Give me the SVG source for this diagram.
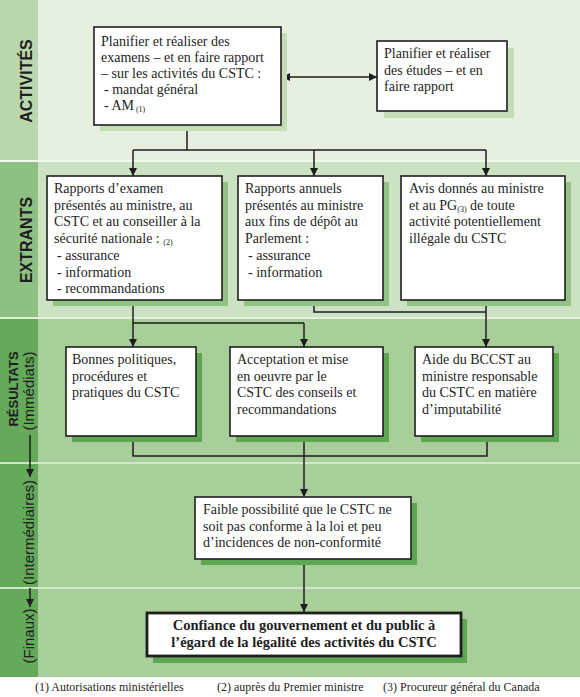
<svg xmlns="http://www.w3.org/2000/svg" width="580" height="697" viewBox="0 0 580 697">
<style>
.box{fill:#fff;stroke:#1e1e1e;stroke-width:1.6}
.fin{fill:#fff;stroke:#1e1e1e;stroke-width:2.8}
.t{font-family:"Liberation Serif","Times New Roman",serif;font-size:14px;fill:#1e1e1e}
.b{font-weight:bold;font-size:14.5px}
.sub{font-size:8px}
.fn{font-family:"Liberation Serif","Times New Roman",serif;font-size:12px;fill:#1e1e1e}
.side{font-family:"Liberation Sans",Arial,sans-serif;fill:#1e1e1e;text-anchor:middle}
.sb{font-weight:bold;font-size:16px}
.ss{font-weight:bold;font-size:13px}
.sp{font-size:15px}
.c{fill:none;stroke:#1e1e1e;stroke-width:1.5}
.sh1{fill:#c3ddb7}.sh2{fill:#92c284}.sh3{fill:#5fa653}
</style>
<defs>
<marker id="ah" viewBox="0 0 10 10" refX="10" refY="5" markerWidth="9" markerHeight="8" markerUnits="userSpaceOnUse" orient="auto-start-reverse">
<path d="M0,0 L10,5 L0,10 z" fill="#1e1e1e"/>
</marker>
</defs>
<g id="background">
<rect x="0" y="0" width="580" height="677" fill="#a8cf9a"/>
<rect x="0" y="0" width="580" height="161" fill="#e6efe0"/>
<rect x="0" y="0" width="38" height="161" fill="#b9d6ad"/>
<rect x="0" y="161" width="580" height="157" fill="#cce3c3"/>
<rect x="0" y="161" width="38" height="157" fill="#8fc083"/>
<rect x="0" y="318" width="38" height="359" fill="#65a95a"/>
<line x1="0" y1="161" x2="580" y2="161" stroke="#f4f8f1" stroke-width="2"/>
<line x1="0" y1="318" x2="580" y2="318" stroke="#e4efdd" stroke-width="2"/>
<line x1="0" y1="463" x2="580" y2="463" stroke="#d2e6ca" stroke-width="2"/>
<line x1="0" y1="588" x2="580" y2="588" stroke="#d2e6ca" stroke-width="2"/>
</g>
<g id="sidebar">
<text class="side sb" transform="translate(31.5,81) rotate(-90)">ACTIVITÉS</text>
<text class="side sb" transform="translate(31.5,240) rotate(-90)">EXTRANTS</text>
<text class="side ss" transform="translate(18,389) rotate(-90)">RÉSULTATS</text>
<text class="side sp" transform="translate(34,391) rotate(-90)">(Immédiats)</text>
<text class="side sp" transform="translate(34,532.5) rotate(-90)">(Intermédiaires)</text>
<text class="side sp" transform="translate(34,636) rotate(-90)">(Finaux)</text>
<path class="c" d="M30,435 V477" marker-end="url(#ah)"/>
<path class="c" d="M30,588 V607" marker-end="url(#ah)"/>
</g>
<g id="connectors">
<path class="c" d="M377,77 H282" marker-start="url(#ah)" marker-end="url(#ah)"/>
<path class="c" d="M187,125 V150 M133,150 H486"/>
<path class="c" d="M133,150 V176" marker-end="url(#ah)"/>
<path class="c" d="M314,150 V176" marker-end="url(#ah)"/>
<path class="c" d="M486,150 V176" marker-end="url(#ah)"/>
<path class="c" d="M133,300 V323 H304"/>
<path class="c" d="M133,323 V347" marker-end="url(#ah)"/>
<path class="c" d="M304,323 V347" marker-end="url(#ah)"/>
<path class="c" d="M314,300 V312 H486"/>
<path class="c" d="M486,300 V347" marker-end="url(#ah)"/>
<path class="c" d="M133,436 V456 H487 V436"/>
<path class="c" d="M304,436 V497" marker-end="url(#ah)"/>
<path class="c" d="M304,559 V612" marker-end="url(#ah)"/>
</g>
<g id="n1">
<rect class="sh1" x="100" y="33" width="187" height="98"/>
<rect class="box" x="94" y="27" width="187" height="98"/>
<text class="t" x="101" y="46">Planifier et réaliser des</text>
<text class="t" x="101" y="62">examens – et en faire rapport</text>
<text class="t" x="101" y="78">– sur les activités du CSTC :</text>
<text class="t" x="104" y="94">- mandat général</text>
<text class="t" x="104" y="110">- AM<tspan class="sub" dy="2"> (1)</tspan></text>
</g>
<g id="n2">
<rect class="sh1" x="384" y="48" width="130" height="70"/>
<rect class="box" x="377" y="41" width="130" height="70"/>
<text class="t" x="384" y="58">Planifier et réaliser</text>
<text class="t" x="384" y="74.5">des études – et en</text>
<text class="t" x="384" y="91">faire rapport</text>
</g>
<g id="e1">
<rect class="sh2" x="53" y="182" width="175" height="124"/>
<rect class="box" x="47" y="176" width="175" height="124"/>
<text class="t" x="54" y="193">Rapports d’examen</text>
<text class="t" x="54" y="209.7">présentés au ministre, au</text>
<text class="t" x="54" y="226.4">CSTC et au conseiller à la</text>
<text class="t" x="54" y="243.1">sécurité nationale : <tspan class="sub" dy="2">(2)</tspan></text>
<text class="t" x="57" y="259.8">- assurance</text>
<text class="t" x="57" y="276.5">- information</text>
<text class="t" x="57" y="293.2">- recommandations</text>
</g>
<g id="e2">
<rect class="sh2" x="244" y="182" width="145" height="124"/>
<rect class="box" x="238" y="176" width="145" height="124"/>
<text class="t" x="245" y="193">Rapports annuels</text>
<text class="t" x="245" y="209.7">présentés au ministre</text>
<text class="t" x="245" y="226.4">aux fins de dépôt au</text>
<text class="t" x="245" y="243.1">Parlement :</text>
<text class="t" x="248" y="259.8">- assurance</text>
<text class="t" x="248" y="276.5">- information</text>
</g>
<g id="e3">
<rect class="sh2" x="407" y="182" width="164" height="124"/>
<rect class="box" x="401" y="176" width="164" height="124"/>
<text class="t" x="409" y="193">Avis donnés au ministre</text>
<text class="t" x="409" y="209.7">et au PG<tspan class="sub" dy="2">(3)</tspan><tspan dy="-2"> de toute</tspan></text>
<text class="t" x="409" y="226.4">activité potentiellement</text>
<text class="t" x="409" y="243.1">illégale du CSTC</text>
</g>
<g id="r1">
<rect class="sh3" x="72" y="353" width="130" height="89"/>
<rect class="box" x="66" y="347" width="130" height="89"/>
<text class="t" x="72" y="364">Bonnes politiques,</text>
<text class="t" x="72" y="380.7">procédures et</text>
<text class="t" x="72" y="397.4">pratiques du CSTC</text>
</g>
<g id="r2">
<rect class="sh3" x="236" y="353" width="153" height="89"/>
<rect class="box" x="230" y="347" width="153" height="89"/>
<text class="t" x="237" y="364">Acceptation et mise</text>
<text class="t" x="237" y="380.7">en oeuvre par le</text>
<text class="t" x="237" y="397.4">CSTC des conseils et</text>
<text class="t" x="237" y="414.1">recommandations</text>
</g>
<g id="r3">
<rect class="sh3" x="421" y="353" width="138" height="89"/>
<rect class="box" x="415" y="347" width="138" height="89"/>
<text class="t" x="422" y="364">Aide du BCCST au</text>
<text class="t" x="422" y="380.7">ministre responsable</text>
<text class="t" x="422" y="397.4">du CSTC en matière</text>
<text class="t" x="422" y="414.1">d’imputabilité</text>
</g>
<g id="i1">
<rect class="sh3" x="201" y="503" width="216" height="62"/>
<rect class="box" x="195" y="497" width="216" height="62"/>
<text class="t" x="203" y="514">Faible possibilité que le CSTC ne</text>
<text class="t" x="203" y="530.5">soit pas conforme à la loi et peu</text>
<text class="t" x="203" y="547">d’incidences de non-conformité</text>
</g>
<g id="f1">
<rect class="sh3" x="153" y="619" width="314" height="44"/>
<rect class="fin" x="147" y="613" width="314" height="43"/>
<text class="t b" x="304" y="630" text-anchor="middle">Confiance du gouvernement et du public à</text>
<text class="t b" x="304" y="647" text-anchor="middle">l’égard de la légalité des activités du CSTC</text>
</g>
<g id="footnotes">
<text class="fn" x="35" y="691">(1) Autorisations ministérielles</text>
<text class="fn" x="217" y="691">(2) auprès du Premier ministre</text>
<text class="fn" x="383" y="691">(3) Procureur général du Canada</text>
</g>
</svg>
